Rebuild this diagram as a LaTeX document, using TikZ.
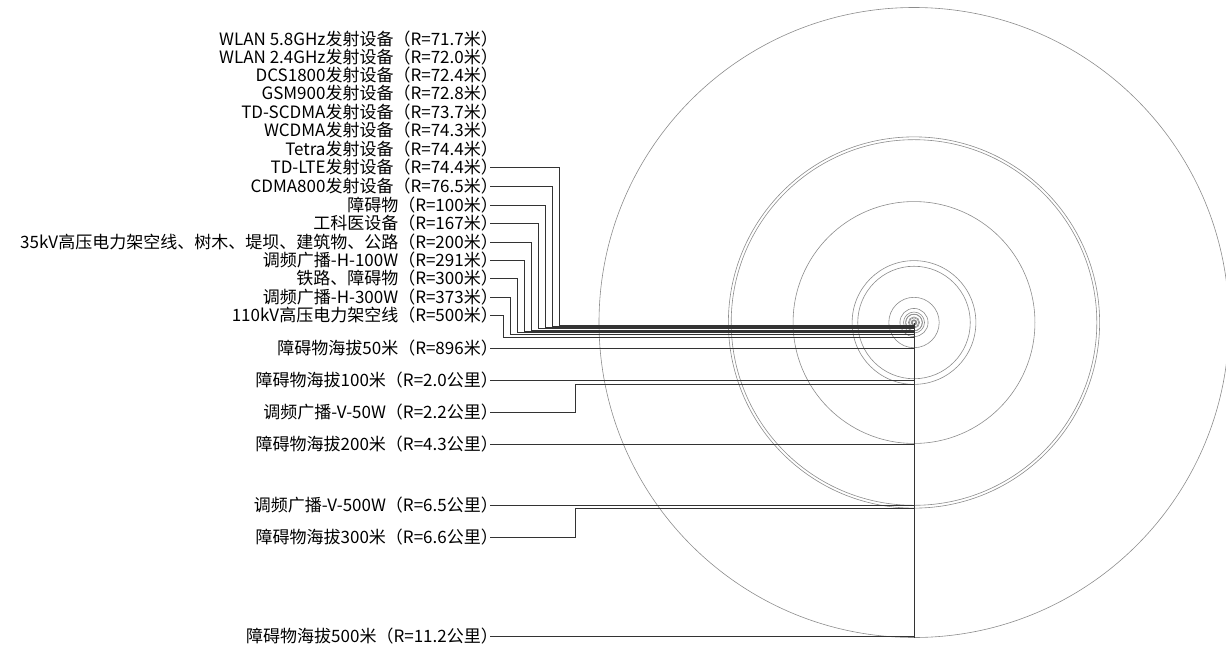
\documentclass[tikz,border=0pt]{standalone}
\usepackage{fontspec}
\setmainfont{Noto Sans CJK SC}
\begin{document}
\begin{tikzpicture}[x=1pt,y=-1pt,
  lab/.style={anchor=east,inner sep=0pt,font=\fontsize{17}{19}\selectfont},
  ring/.style={draw=black!45,line width=0.6pt},
  conn/.style={draw=black!80,line width=0.7pt}]
\useasboundingbox (0,0) rectangle (1226,648);
\coordinate (C) at (914,322.5);
\coordinate (B) at (914,637.5);
% circles (radius in px = km * 28.125)
\foreach \r in {0.0717,0.0720,0.0724,0.0728,0.0737,0.0743,0.0744,0.0765,0.1,0.167,0.2,0.291,0.3,0.373,0.5,0.896,2.0,2.2,4.3,6.5,6.6,11.2}
  \draw[ring] (C) circle[radius=\r*28.125];
\draw[conn] (C) -- (B);
% labels
\node[lab] (l1) at (498,39) {WLAN 5.8GHz发射设备（R=71.7米）};
\node[lab] (l2) at (498,57) {WLAN 2.4GHz发射设备（R=72.0米）};
\node[lab] (l3) at (498,75) {DCS1800发射设备（R=72.4米）};
\node[lab] (l4) at (498,93) {GSM900发射设备（R=72.8米）};
\node[lab] (l5) at (498,112) {TD-SCDMA发射设备（R=73.7米）};
\node[lab] (l6) at (498,130) {WCDMA发射设备（R=74.3米）};
\node[lab] (l7) at (498,149) {Tetra发射设备（R=74.4米）};
\node[lab] (l8) at (498,167) {TD-LTE发射设备（R=74.4米）};
\node[lab] (l9) at (498,186) {CDMA800发射设备（R=76.5米）};
\node[lab] (l10) at (498,205) {障碍物（R=100米）};
\node[lab] (l11) at (498,223) {工科医设备（R=167米）};
\node[lab] (l12) at (498,242) {35kV高压电力架空线、树木、堤坝、建筑物、公路（R=200米）};
\node[lab] (l13) at (498,260) {调频广播-H-100W（R=291米）};
\node[lab] (l14) at (498,278) {铁路、障碍物（R=300米）};
\node[lab] (l15) at (498,297) {调频广播-H-300W（R=373米）};
\node[lab] (l16) at (498,315) {110kV高压电力架空线（R=500米）};
\node[lab] (l17) at (498,348) {障碍物海拔50米（R=896米）};
\node[lab] (l18) at (498,380) {障碍物海拔100米（R=2.0公里）};
\node[lab] (l19) at (498,412) {调频广播-V-50W（R=2.2公里）};
\node[lab] (l20) at (498,444) {障碍物海拔200米（R=4.3公里）};
\node[lab] (l21) at (498,505) {调频广播-V-500W（R=6.5公里）};
\node[lab] (l22) at (498,537) {障碍物海拔300米（R=6.6公里）};
\node[lab] (l23) at (498,636) {障碍物海拔500米（R=11.2公里）};
% connectors
\draw[conn] ([xshift=-8pt]l8.east) -| (559,325) -- (914,325);
\draw[conn] ([xshift=-8pt]l9.east) -| (552.5,326) -- (914,326);
\draw[conn] ([xshift=-8pt]l10.east) -| (545.5,327) -- (914,327);
\draw[conn] ([xshift=-8pt]l11.east) -| (538.5,328.5) -- (914,328.5);
\draw[conn] ([xshift=-8pt]l12.east) -| (531.5,330) -- (914,330);
\draw[conn] ([xshift=-8pt]l13.east) -| (524.5,331.5) -- (914,331.5);
\draw[conn] ([xshift=-8pt]l14.east) -| (517.5,332.5) -- (914,332.5);
\draw[conn] ([xshift=-8pt]l15.east) -| (510.5,334) -- (914,334);
\draw[conn] ([xshift=-8pt]l16.east) -| (503.5,337.5) -- (914,337.5);
\draw[conn] ([xshift=-8pt]l17.east) -- (l17.east -| C);
\draw[conn] ([xshift=-8pt]l18.east) -- (l18.east -| C);
\draw[conn] ([xshift=-8pt]l19.east) -| (575,384.5) -- (914,384.5);
\draw[conn] ([xshift=-8pt]l20.east) -- (l20.east -| C);
\draw[conn] ([xshift=-8pt]l21.east) -- (l21.east -| C);
\draw[conn] ([xshift=-8pt]l22.east) -| (575,508) -- (914,508);
\draw[conn] ([xshift=-8pt]l23.east) -- (l23.east -| C);
\end{tikzpicture}
\end{document}
